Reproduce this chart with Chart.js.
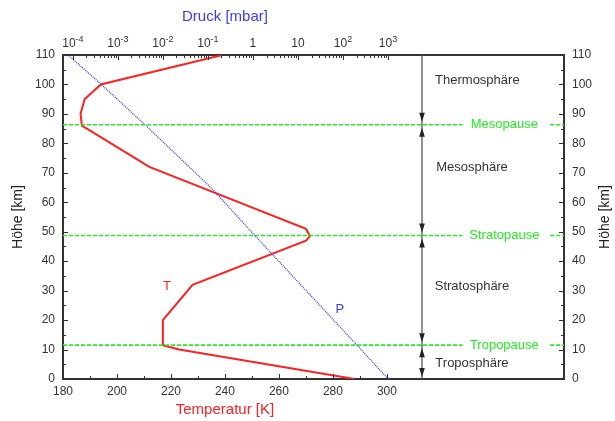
<!DOCTYPE html>
<html>
<head>
<meta charset="utf-8">
<script src="https://cdn.jsdelivr.net/npm/chart.js@4"></script>
<style>
  body { margin: 0; background: #fff; }
</style>
</head>
<body>
<canvas id="chart" width="615" height="421"></canvas>
<script>
// temperature profile (red line)
const heightKm = [0, 10, 11.5, 20, 32, 47, 48.5, 51, 72, 86, 90, 95, 100, 110];
const tempK = [288, 223, 217, 217, 228, 270, 271.5, 270, 212, 187, 186.5, 188, 194, 239];

// pressure profile (blue dotted line)
const pressHeightKm = [0, 11.5, 48.7, 64.3, 86, 100.4, 110];
const pressMbar = [1013, 204, 1.1, 0.129, 0.0042, 0.0004, 0.000078];

// layer boundaries and names
const boundaryKm = [11.5, 48.7, 86.3];
const boundaryNames = ['Tropopause', 'Stratopause', 'Mesopause'];
const layerNames = ['Troposphäre', 'Stratosphäre', 'Mesosphäre', 'Thermosphäre'];
const layerLabelKm = [5.4, 31.5, 71.7, 101.5];

// tick labels
const tempTicks = [180, 200, 220, 240, 260, 280, 300];
const heightTicks = [0, 10, 20, 30, 40, 50, 60, 70, 80, 90, 100, 110];
const pressExp = [-4, -3, -2, -1, 0, 1, 2, 3];

const markerT = 313;   // temperature position of the vertical arrow line
const T_MAX = 365.6;

const FONT = '"Liberation Sans", Arial, sans-serif';
const GREEN = '#22ee22';
const RED = '#ff2020';
const BLUE = '#3a3aff';

function boundaryDataset(h) {
  return {
    data: [{x: 180, y: h}, {x: 328, y: h}, {x: 340, y: null}, {x: 360.5, y: h}, {x: T_MAX, y: h}],
    borderColor: GREEN,
    borderWidth: 1.6,
    borderDash: [4, 2],
    pointRadius: 0,
    spanGaps: false,
    xAxisID: 'x', yAxisID: 'y'
  };
}

const datasets = [
  ...boundaryKm.map(boundaryDataset),
  {
    data: [{x: markerT, y: 0}, {x: markerT, y: 110}],
    borderColor: '#555', borderWidth: 1.3, pointRadius: 0,
    xAxisID: 'x', yAxisID: 'y'
  },
  {
    data: pressHeightKm.map((h, i) => ({x: pressMbar[i], y: h})),
    borderColor: BLUE, borderWidth: 1.3, borderDash: [1, 1], pointRadius: 0,
    xAxisID: 'x2', yAxisID: 'y'
  },
  {
    data: heightKm.map((h, i) => ({x: tempK[i], y: h})),
    borderColor: RED, borderWidth: 2, pointRadius: 0,
    xAxisID: 'x', yAxisID: 'y'
  }
];

function superText(ctx, base, exp, cx, baseY) {
  ctx.font = '12px ' + FONT;
  const wb = ctx.measureText(base).width;
  let we = 0;
  if (exp !== null) {
    ctx.font = '9px ' + FONT;
    we = ctx.measureText(exp).width;
  }
  const x0 = cx - (wb + we) / 2;
  ctx.textAlign = 'left';
  ctx.textBaseline = 'alphabetic';
  ctx.font = '12px ' + FONT;
  ctx.fillText(base, x0, baseY);
  if (exp !== null) {
    ctx.font = '9px ' + FONT;
    ctx.fillText(exp, x0 + wb, baseY - 5);
  }
}

function arrow(ctx, x, tipY, dir) {
  // dir = 1 -> pointing down, -1 -> pointing up
  ctx.beginPath();
  ctx.moveTo(x, tipY);
  ctx.lineTo(x - 2.8, tipY - dir * 9);
  ctx.lineTo(x + 2.8, tipY - dir * 9);
  ctx.closePath();
  ctx.fill();
}

const decor = {
  id: 'decor',
  afterDraw(chart) {
    const {ctx, chartArea: a} = chart;
    const x = chart.scales.x, x2 = chart.scales.x2, y = chart.scales.y;
    ctx.save();
    ctx.strokeStyle = '#333';
    ctx.lineWidth = 1;

    // inward ticks
    ctx.beginPath();
    for (let v = 180; v <= 300; v += 10) {
      const px = Math.round(x.getPixelForValue(v)) + 0.5;
      const len = v % 20 === 0 ? 5 : 3;
      ctx.moveTo(px, a.bottom);
      ctx.lineTo(px, a.bottom - len);
    }
    for (let h = 0; h <= 110; h += 5) {
      const py = Math.round(y.getPixelForValue(h)) + 0.5;
      const len = h % 10 === 0 ? 5 : 3;
      ctx.moveTo(a.left, py); ctx.lineTo(a.left + len, py);
      ctx.moveTo(a.right, py); ctx.lineTo(a.right - len, py);
    }
    pressExp.forEach(e => {
      const p = Math.pow(10, e);
      let px = Math.round(x2.getPixelForValue(p)) + 0.5;
      ctx.moveTo(px, a.top); ctx.lineTo(px, a.top + 5);
      if (e < 3) {
        for (let m = 2; m <= 9; m++) {
          px = Math.round(x2.getPixelForValue(m * p)) + 0.5;
          ctx.moveTo(px, a.top); ctx.lineTo(px, a.top + 3);
        }
      }
    });
    ctx.stroke();

    // top axis labels
    ctx.fillStyle = '#333';
    pressExp.forEach(e => {
      const px = x2.getPixelForValue(Math.pow(10, e));
      if (e === 0) superText(ctx, '1', null, px, 47);
      else if (e === 1) superText(ctx, '10', null, px, 47);
      else superText(ctx, '10', String(e), px, 47);
    });

    // axis titles centred on the labelled range
    const midT = x.getPixelForValue(240);
    ctx.textAlign = 'center';
    ctx.textBaseline = 'middle';
    ctx.font = '15px ' + FONT;
    ctx.fillStyle = RED;
    ctx.fillText('Temperatur [K]', midT, 410);
    ctx.fillStyle = BLUE;
    ctx.fillText('Druck [mbar]', midT, 17);

    // right-hand axis title, reading bottom to top like the left one
    ctx.save();
    ctx.translate(605, (a.top + a.bottom) / 2);
    ctx.rotate(-Math.PI / 2);
    ctx.font = '14px ' + FONT;
    ctx.fillStyle = '#222';
    ctx.fillText('Höhe [km]', 0, 0);
    ctx.restore();

    // curve labels
    ctx.font = '13px ' + FONT;
    ctx.fillStyle = RED;
    ctx.fillText('T', x.getPixelForValue(218.5), y.getPixelForValue(31.5));
    ctx.fillStyle = BLUE;
    ctx.fillText('P', x.getPixelForValue(282.6), y.getPixelForValue(23.7));

    // boundary names
    ctx.fillStyle = GREEN;
    boundaryKm.forEach((h, i) => {
      ctx.fillText(boundaryNames[i], x.getPixelForValue(343.5), y.getPixelForValue(h));
    });
    // layer names
    ctx.fillStyle = '#333';
    ctx.font = '13px ' + FONT;
    layerNames.forEach((n, i) => {
      const tx = i === 3 ? 333.5 : 331.5;
      ctx.fillText(n, x.getPixelForValue(tx), y.getPixelForValue(layerLabelKm[i]));
    });

    // arrow heads on the vertical line
    const mx = x.getPixelForValue(markerT);
    ctx.fillStyle = '#222';
    boundaryKm.forEach(h => {
      const py = y.getPixelForValue(h);
      arrow(ctx, mx, py - 3, 1);
      arrow(ctx, mx, py + 3, -1);
    });
    arrow(ctx, mx, y.getPixelForValue(0) - 2, 1);

    ctx.restore();
  }
};

const axisBorder = {display: true, color: '#333', width: 2};
const noGrid = {drawOnChartArea: false, drawTicks: false};
const tickFont = {family: FONT, size: 12};

new Chart(document.getElementById('chart'), {
  type: 'line',
  data: {datasets: datasets},
  options: {
    responsive: false,
    animation: false,
    events: [],
    layout: {padding: 0},
    plugins: {legend: {display: false}, tooltip: {enabled: false}},
    elements: {line: {tension: 0}},
    scales: {
      x: {
        type: 'linear', position: 'bottom', min: 180, max: T_MAX,
        afterFit(s) { s.height = 42; },
        afterBuildTicks(s) { s.ticks = tempTicks.map(v => ({value: v})); },
        ticks: {color: '#333', font: tickFont, padding: 5, maxRotation: 0, autoSkip: false},
        grid: noGrid, border: axisBorder
      },
      x2: {
        type: 'logarithmic', position: 'top',
        min: Math.pow(10, -4.22), max: Math.pow(10, 6.91),
        afterFit(s) { s.height = 55; },
        ticks: {display: false},
        grid: noGrid, border: axisBorder
      },
      y: {
        type: 'linear', position: 'left', min: 0, max: 110,
        afterFit(s) { s.width = 63; },
        afterBuildTicks(s) { s.ticks = heightTicks.map(v => ({value: v})); },
        ticks: {color: '#333', font: tickFont, padding: 8},
        title: {display: true, text: 'Höhe [km]', color: '#222', font: {family: FONT, size: 14}, padding: {top: 10, bottom: 0}},
        grid: noGrid, border: axisBorder
      },
      y2: {
        type: 'linear', position: 'right', min: 0, max: 110,
        afterFit(s) { s.width = 51; },
        afterBuildTicks(s) { s.ticks = heightTicks.map(v => ({value: v})); },
        ticks: {color: '#333', font: tickFont, padding: 8},
        grid: noGrid, border: axisBorder
      }
    }
  },
  plugins: [decor]
});
</script>
</body>
</html>
